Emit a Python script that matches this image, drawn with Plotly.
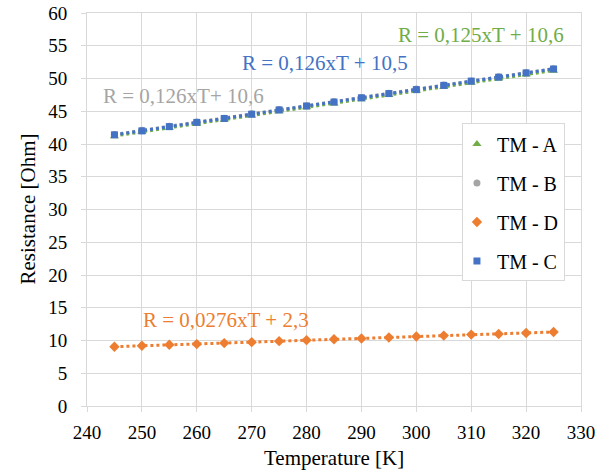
import numpy as np
import plotly.graph_objects as go

temperature = [245, 250, 255, 260, 265, 270, 275, 280, 285, 290, 295, 300, 305, 310, 315, 320, 325]
tm_a = [41.2, 41.85, 42.5, 43.1, 43.7, 44.35, 45.0, 45.6, 46.2, 46.85, 47.5, 48.1, 48.7, 49.35, 50.0, 50.6, 51.2]
tm_b = [41.45, 42.1, 42.7, 43.35, 43.95, 44.6, 45.25, 45.85, 46.5, 47.1, 47.75, 48.4, 49.0, 49.6, 50.25, 50.9, 51.5]
tm_d = [9.05, 9.2, 9.35, 9.45, 9.6, 9.75, 9.9, 10.05, 10.2, 10.3, 10.45, 10.6, 10.75, 10.9, 11.0, 11.15, 11.3]
tm_c = [41.4, 42.0, 42.65, 43.3, 43.9, 44.55, 45.2, 45.8, 46.4, 47.05, 47.7, 48.3, 48.95, 49.6, 50.2, 50.85, 51.45]

series_names = ["TM - A", "TM - B", "TM - D", "TM - C"]
series_values = [tm_a, tm_b, tm_d, tm_c]
series_colors = ["#70AD47", "#A5A5A5", "#ED7D31", "#4472C4"]
series_symbols = ["triangle-up", "circle", "diamond", "square"]
series_sizes = [8, 7, 8, 7]

equations = ["R = 0,125xT + 10,6", "R = 0,126xT+ 10,6", "R = 0,0276xT + 2,3", "R = 0,126xT + 10,5"]
eq_pos = [(311.7, 56.7), (257.5, 47.4), (265.4, 13.2), (283.4, 52.3)]

x_ticks = [240, 250, 260, 270, 280, 290, 300, 310, 320, 330]
y_ticks = [0, 5, 10, 15, 20, 25, 30, 35, 40, 45, 50, 55, 60]

FONT = "Liberation Serif"
GRID = "#D9D9D9"

fig = go.Figure()
T = np.array(temperature, dtype=float)

for name, vals, col, sym, sz in zip(series_names, series_values, series_colors, series_symbols, series_sizes):
    m, b = np.polyfit(T, np.array(vals), 1)
    fig.add_trace(go.Scatter(
        x=[T.min(), T.max()], y=[m * T.min() + b, m * T.max() + b],
        mode="lines", line=dict(color=col, width=3, dash="dot"),
        showlegend=False, hoverinfo="skip"))

for name, vals, col, sym, sz in zip(series_names, series_values, series_colors, series_symbols, series_sizes):
    fig.add_trace(go.Scatter(
        x=temperature, y=vals, mode="markers", name=name, legendgroup=name,
        marker=dict(color=col, symbol=sym, size=sz, line=dict(width=0))))

for text, (ex, ey), col in zip(equations, eq_pos, series_colors):
    fig.add_annotation(x=ex, y=ey, xref="x", yref="y", text=text, showarrow=False,
                       xanchor="center", yanchor="middle",
                       font=dict(family=FONT, size=21, color=col))

fig.add_annotation(x=0.5, y=0, xref="paper", yref="paper", text="Temperature [K]",
                   showarrow=False, xanchor="center", yanchor="middle", yshift=-52,
                   font=dict(family=FONT, size=21, color="#000000"))
fig.add_annotation(x=0, y=0.5, xref="paper", yref="paper", text="Resistance [Ohm]",
                   showarrow=False, xanchor="center", yanchor="middle", xshift=-60,
                   textangle=-90, font=dict(family=FONT, size=21, color="#000000"))

fig.update_layout(
    width=604, height=472,
    margin=dict(l=87, r=23, t=13, b=66, autoexpand=False),
    paper_bgcolor="white", plot_bgcolor="white",
    font=dict(family=FONT, size=19, color="#000000"),
    showlegend=True,
    legend=dict(x=0.759, y=0.719, xanchor="left", yanchor="top",
                bordercolor=GRID, borderwidth=1, bgcolor="white",
                font=dict(family=FONT, size=20, color="#000000"),
                traceorder="grouped", tracegroupgap=10, indentation=-6),
    xaxis=dict(range=[240, 330], tickvals=x_ticks, ticktext=[str(v) for v in x_ticks],
               showgrid=True, gridcolor=GRID, gridwidth=1, zeroline=False, automargin=False,
               showline=True, linecolor=GRID, linewidth=1, mirror=True,
               ticks="outside", ticklen=5, tickcolor=GRID, ticklabelstandoff=4),
    yaxis=dict(range=[0, 60], tickvals=y_ticks, ticktext=[str(v) for v in y_ticks],
               showgrid=True, gridcolor=GRID, gridwidth=1, zeroline=False, automargin=False,
               showline=True, linecolor=GRID, linewidth=1, mirror=True,
               ticks="outside", ticklen=5, tickcolor=GRID, ticklabelstandoff=10),
)

fig.write_html("out.html", config={"displayModeBar": False},
               post_script="document.body.style.margin='0px';")
